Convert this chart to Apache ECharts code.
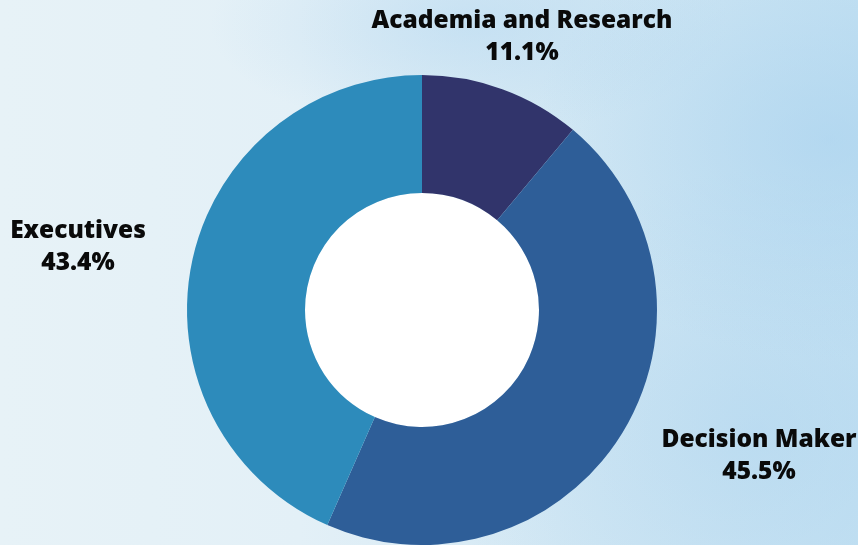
<!DOCTYPE html>
<html>
<head>
<meta charset="utf-8">
<script src="https://cdn.jsdelivr.net/npm/echarts@6/dist/echarts.min.js"></script>
<style>
html,body{margin:0;padding:0;width:858px;height:545px;overflow:hidden;}
body{
  background:
    radial-gradient(ellipse 300px 220px at 830px 140px, rgba(165,208,238,0.55), rgba(165,208,238,0) 100%),
    radial-gradient(ellipse 320px 260px at 760px 430px, rgba(170,210,238,0.45), rgba(170,210,238,0) 100%),
    radial-gradient(ellipse 260px 110px at 470px 25px, rgba(180,215,240,0.5), rgba(180,215,240,0) 100%),
    linear-gradient(90deg, #e7f2f7 0%, #e3f0f7 35%, #d3e8f4 65%, #c4e1f2 100%);
}
#chart{width:858px;height:545px;}
</style>
</head>
<body>
<div id="chart"></div>
<script>
const categories = ["Academia and Research", "Decision Maker", "Executives"];
const values = [11.1, 45.5, 43.4];
const colors = ["#31346b", "#2e5e98", "#2d8bbb"];

const labelPos = [
  {x: 522, y: 37},
  {x: 759, y: 456},
  {x: 78, y: 247}
];

const chart = echarts.init(document.getElementById('chart'), null, {renderer: 'canvas'});
chart.setOption({
  backgroundColor: 'transparent',
  animation: false,
  series: [{
    type: 'pie',
    center: [422, 310],
    radius: [0, 117],
    silent: true,
    label: {show: false},
    labelLine: {show: false},
    data: [{value: 1, itemStyle: {color: '#ffffff'}}],
    emphasis: {disabled: true}
  }, {
    type: 'pie',
    center: [422, 310],
    radius: [117, 235],
    startAngle: 90,
    clockwise: true,
    data: categories.map((c, i) => ({name: c, value: values[i], itemStyle: {color: colors[i]}})),
    label: {
      show: true,
      position: 'outside',
      formatter: p => p.name + '\n' + p.value.toFixed(1) + '%',
      color: '#0a0a0a',
      fontFamily: 'Open Sans',
      fontWeight: 800,
      fontSize: 24.5,
      lineHeight: 32,
      align: 'center',
      overflow: 'none',
      width: 400
    },
    labelLine: {show: false},
    labelLayout: function (params) {
      const p = labelPos[params.dataIndex];
      return {x: p.x, y: p.y, align: 'center', verticalAlign: 'middle'};
    },
    emphasis: {disabled: true}
  }]
});
</script>
</body>
</html>
